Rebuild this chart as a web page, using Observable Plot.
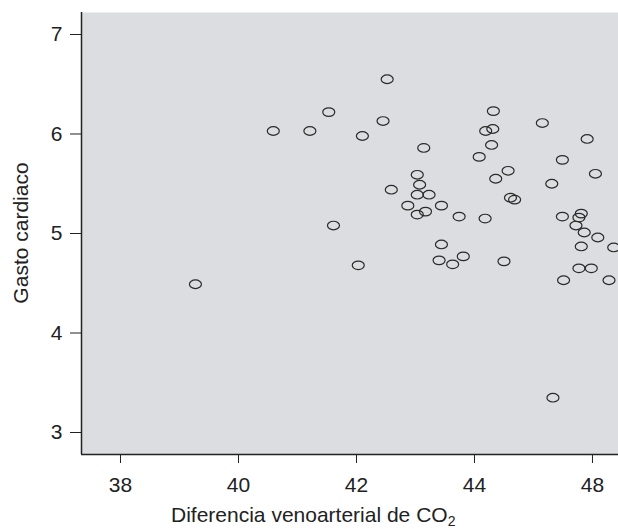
<!DOCTYPE html>
<html><head><meta charset="utf-8">
<script src="https://cdn.jsdelivr.net/npm/d3@7"></script>
<script src="https://cdn.jsdelivr.net/npm/@observablehq/plot@0.6"></script>
<style>body{margin:0;background:#fff} svg{display:block}</style>
</head><body><div id="chart"></div>
<script>
const xValues = [42.52,41.53,42.45,40.59,41.21,42.10,42.59,41.61,42.03,39.27,45.33,
  44.32,45.15,44.19,44.31,45.91,43.14,44.29,44.08,45.49,46.05,44.57,44.36,45.31,
  43.03,43.07,43.03,43.23,42.87,43.44,43.17,43.03,44.61,44.68,43.74,44.18,45.49,
  45.81,45.77,45.72,45.86,46.09,46.36,45.81,43.44,43.40,43.63,43.81,44.50,45.77,
  45.98,45.51,46.28];
const yValues = [6.55,6.22,6.13,6.03,6.03,5.98,5.44,5.08,4.68,4.49,3.35,
  6.23,6.11,6.03,6.05,5.95,5.86,5.89,5.77,5.74,5.60,5.63,5.55,5.50,
  5.59,5.49,5.39,5.39,5.28,5.28,5.22,5.19,5.36,5.34,5.17,5.15,5.17,
  5.20,5.16,5.08,5.01,4.96,4.86,4.87,4.89,4.73,4.69,4.77,4.72,4.65,
  4.65,4.53,4.53];
const xTicks = [38, 40, 42, 44, 46];
const xTickLabels = ["38", "40", "42", "44", "48"];
const yTicks = [3, 4, 5, 6, 7];
const xLabel = "Diferencia venoarterial de CO";
const xLabelSub = "2";
const yLabel = "Gasto cardiaco";

const data = xValues.map((x, i) => ({x, y: yValues[i]}));
const xDomain = [37.339, 46.441];
const yDomain = [2.779, 7.221];

const ellipse = {
  draw(ctx) {
    const rx = 6, ry = 4.3, k = 0.5523;
    ctx.moveTo(rx, 0);
    ctx.bezierCurveTo(rx, ry * k, rx * k, ry, 0, ry);
    ctx.bezierCurveTo(-rx * k, ry, -rx, ry * k, -rx, 0);
    ctx.bezierCurveTo(-rx, -ry * k, -rx * k, -ry, 0, -ry);
    ctx.bezierCurveTo(rx * k, -ry, rx, -ry * k, rx, 0);
    ctx.closePath();
  }
};

const font = "'Liberation Sans', Arial, sans-serif";
const chart = Plot.plot({
  width: 618, height: 529,
  marginLeft: 81, marginRight: 0, marginTop: 12, marginBottom: 75,
  style: {fontFamily: font, fontSize: "21px", background: "#fff", color: "#222"},
  x: {domain: xDomain, label: null},
  y: {domain: yDomain, label: null},
  marks: [
    Plot.frame({fill: "#dcdde0", stroke: null}),
    Plot.axisX({ticks: xTicks, tickFormat: d => xTickLabels[xTicks.indexOf(d)], tickSize: 9, tickPadding: 14, fontSize: 21, label: null, stroke: "#222"}),
    Plot.axisY({ticks: yTicks, tickFormat: d => String(d), tickSize: 11, tickPadding: 8, fontSize: 21, label: null, stroke: "#222"}),
    Plot.ruleX([xDomain[0]], {stroke: "#222", strokeWidth: 1.5}),
    Plot.ruleY([yDomain[0]], {stroke: "#222", strokeWidth: 1.5}),
    Plot.dot(data, {x: "x", y: "y", symbol: ellipse, fill: "none", stroke: "#2a2a2a", strokeWidth: 1.2})
  ]
});

const svg = d3.select(chart);
svg.append("text")
  .attr("transform", "translate(20,233) rotate(-90)")
  .attr("text-anchor", "middle").attr("dominant-baseline", "central")
  .attr("font-family", font).attr("font-size", 21).attr("fill", "#222")
  .text(yLabel);
const xl = svg.append("text")
  .attr("x", 171).attr("y", 522).attr("text-anchor", "start")
  .attr("font-family", font).attr("font-size", 21).attr("fill", "#222");
xl.append("tspan").text(xLabel);
xl.append("tspan").attr("font-size", 14).attr("dy", 4).text(xLabelSub);

document.getElementById("chart").appendChild(chart);
</script>
</body></html>
